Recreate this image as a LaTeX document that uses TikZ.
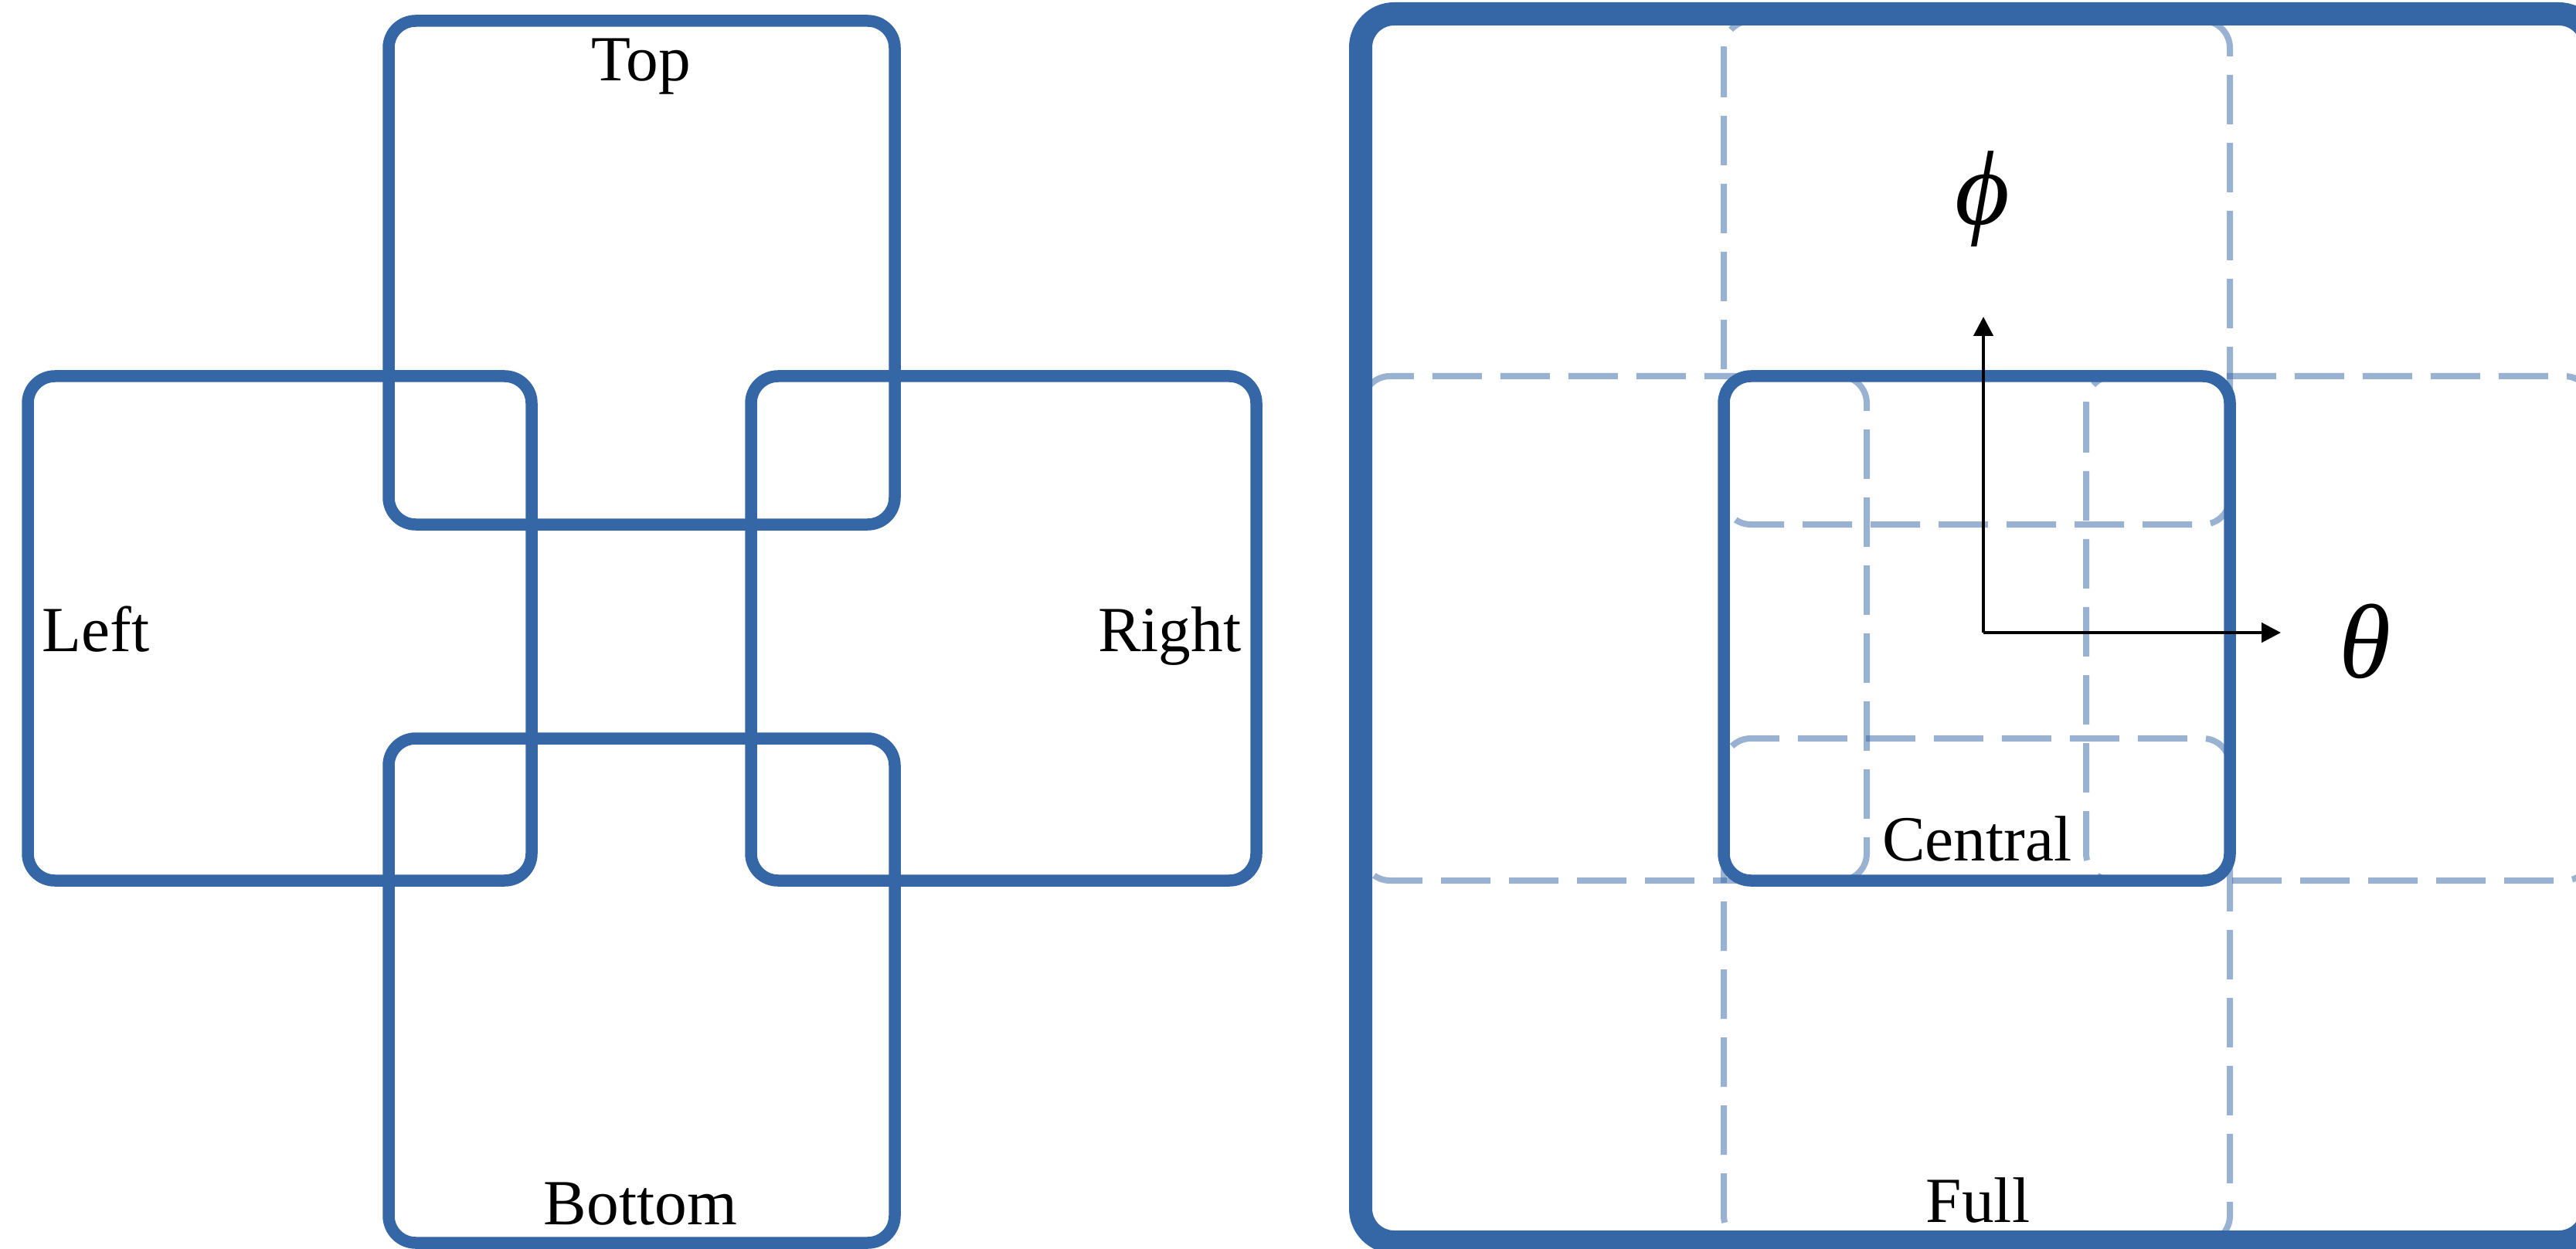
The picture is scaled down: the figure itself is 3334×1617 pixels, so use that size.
\documentclass[tikz,border=0pt]{standalone}
\usepackage{fontspec}
\setmainfont{Liberation Serif}
\usetikzlibrary{arrows.meta}
\definecolor{myblue}{RGB}{53,102,166}
\begin{document}
\begin{tikzpicture}[x=0.3pt,y=-0.3pt,
  solidbox/.style={draw=myblue, line width=4.65pt, rounded corners=10.5pt},
  fullbox/.style={draw=myblue, line width=9pt, rounded corners=13pt},
  dashbox/.style={draw=myblue, draw opacity=0.5, line width=2.4pt, rounded corners=10.5pt, dash pattern=on 19.2pt off 7.2pt},
  lbl/.style={font=\fontsize{25}{30}\selectfont, inner sep=0pt},
  greek/.style={font=\fontsize{41}{48}\selectfont\itshape, inner sep=0pt},
  axis/.style={draw=black, line width=1.4pt, -{Triangle[length=7.5pt,width=7.5pt]}}]
\useasboundingbox (0,0) rectangle (3334,1617);
\clip (0,0) rectangle (3334,1617);
% ---------- left panel ----------
\draw[solidbox] (503,27) rectangle (1158,679);
\draw[solidbox] (36,487) rectangle (688,1140);
\draw[solidbox] (972,487) rectangle (1626,1140);
\draw[solidbox] (503,956) rectangle (1158,1609);
\node[lbl, anchor=base] (toplbl) at (830,105) {Top};
\node[lbl, anchor=base west] (leftlbl) at (54,843) {Left};
\node[lbl, anchor=base east] (rightlbl) at (1607,843) {Right};
\node[lbl, anchor=base] (bottomlbl) at (829,1585) {Bottom};
% ---------- right panel ----------
\draw[dashbox] (2231,27) rectangle (2886,679);
\draw[dashbox] (1764,487) rectangle (2416,1140);
\draw[dashbox] (2700,487) rectangle (3354,1140);
\draw[dashbox] (2231,956) rectangle (2886,1609);
\draw[solidbox] (2231,487) rectangle (2886,1140);
\draw[fullbox] (1761,18) rectangle (3355,1608);
\node[lbl, anchor=base] (centrallbl) at (2559,1114) {Central};
\node[lbl, anchor=base] (fulllbl) at (2560,1582) {Full};
\coordinate (origin) at (2567,819);
\coordinate (phitip) at (2567,410);
\coordinate (thetatip) at (2952,819);
\draw[axis] (origin) -- (phitip);
\draw[axis] (origin) -- (thetatip);
\node[greek] (philbl) at (2566,258) {ϕ};
\node[greek] (thetalbl) at (3061,830) {θ};
\end{tikzpicture}
\end{document}
